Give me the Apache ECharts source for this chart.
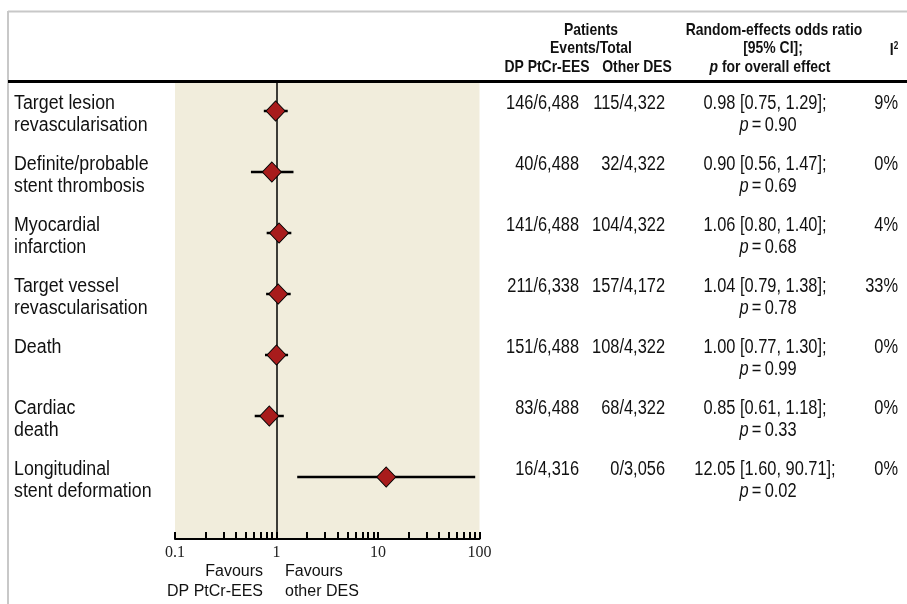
<!DOCTYPE html>
<html>
<head>
<meta charset="utf-8">
<script src="https://cdn.jsdelivr.net/npm/echarts@6/dist/echarts.min.js"></script>
<style>
html,body{margin:0;padding:0;background:#fff;}
#chart{width:907px;height:604px;}
</style>
</head>
<body>
<div id="chart"></div>
<script>
// ---- data ----
const outcomes = ['Target lesion\nrevascularisation', 'Definite/probable\nstent thrombosis', 'Myocardial\ninfarction', 'Target vessel\nrevascularisation', 'Death', 'Cardiac\ndeath', 'Longitudinal\nstent deformation'];
const orValues = [0.98, 0.90, 1.06, 1.04, 1.00, 0.85, 12.05];
const ciLow = [0.75, 0.56, 0.80, 0.79, 0.77, 0.61, 1.60];
const ciHigh = [1.29, 1.47, 1.40, 1.38, 1.30, 1.18, 90.71];
const eventsEES = ['146/6,488', '40/6,488', '141/6,488', '211/6,338', '151/6,488', '83/6,488', '16/4,316'];
const eventsOther = ['115/4,322', '32/4,322', '104/4,322', '157/4,172', '108/4,322', '68/4,322', '0/3,056'];
const pValues = ['0.90', '0.69', '0.68', '0.78', '0.99', '0.33', '0.02'];
const i2Values = ['9%', '0%', '4%', '33%', '0%', '0%', '0%'];
const tickValues = [0.1, 1, 10, 100];
const tickLabels = ['0.1', '1', '10', '100'];
const minorTickValues = [0.1,0.2,0.3,0.4,0.5,0.6,0.7,0.8,0.9,1,2,3,4,5,6,7,8,9,10,20,30,40,50,60,70,80,90,100];

// ---- styling ----
const SANS = "'Liberation Sans',Arial,sans-serif";
const SERIF = "'Liberation Serif','Times New Roman',serif";
const NARROW_SCALE = 0.82;
const INK = '#111';
const fmtOR = (i) => orValues[i].toFixed(2) + ' [' + ciLow[i].toFixed(2) + ', ' + ciHigh[i].toFixed(2) + '];';

const chart = echarts.init(document.getElementById('chart'), null, {renderer: 'canvas'});

function narrowText(x, y, text, align, opts) {
  opts = opts || {};
  const size = opts.size || 20;
  const weight = opts.bold ? 'bold ' : '';
  const style = {
    text: text, align: align, verticalAlign: 'middle',
    font: weight + size + 'px ' + SANS, fill: INK
  };
  if (opts.rich) style.rich = opts.rich;
  return {type: 'text', x: x, y: y, scaleX: opts.scale || NARROW_SCALE, style: style};
}

const option = {
  animation: false,
  backgroundColor: '#fff',
  grid: {left: 175, right: 427.5, top: 82, bottom: 65, show: true, backgroundColor: '#f1eddc', borderWidth: 0},
  xAxis: {
    type: 'log', logBase: 10, min: 0.1, max: 100,
    splitLine: {show: false},
    axisLine: {show: true, onZero: false, lineStyle: {color: '#000', width: 2}},
    axisTick: {show: true, inside: true, length: 7, customValues: minorTickValues, lineStyle: {color: '#000', width: 2}},
    axisLabel: {
      show: true, customValues: tickValues, margin: 6,
      fontFamily: SERIF, fontSize: 16, color: '#222',
      formatter: function (v) {
        for (let k = 0; k < tickValues.length; k++) {
          if (Math.abs(v - tickValues[k]) < tickValues[k] * 1e-6) return tickLabels[k];
        }
        return '';
      }
    }
  },
  yAxis: {type: 'value', inverse: true, min: -0.4754, max: 7.0164, show: false},
  series: [
    {
      type: 'custom',
      name: 'ci',
      clip: false,
      data: outcomes.map((_, i) => [ciLow[i], ciHigh[i], i]),
      encode: {x: [0, 1], y: 2},
      renderItem: function (params, api) {
        const a = api.coord([api.value(0), api.value(2)]);
        const b = api.coord([api.value(1), api.value(2)]);
        return {type: 'line', shape: {x1: a[0], y1: a[1], x2: b[0], y2: b[1]}, style: {stroke: '#000', lineWidth: 2.5}};
      },
      z: 3
    },
    {
      type: 'scatter',
      data: outcomes.map((_, i) => [orValues[i], i]),
      symbol: 'diamond',
      symbolSize: [19, 20],
      itemStyle: {color: '#a81c1c', borderColor: '#000', borderWidth: 1, opacity: 1},
      z: 5,
      markLine: {
        silent: true, symbol: 'none', label: {show: false},
        lineStyle: {color: '#000', width: 1.5, type: 'solid'},
        data: [{xAxis: 1}],
        z: 2
      }
    },
    {
      type: 'custom',
      name: 'table',
      clip: false,
      silent: true,
      data: outcomes.map((_, i) => [1, i]),
      renderItem: function (params, api) {
        const i = params.dataIndex;
        const y = api.coord([1, api.value(1)])[1];
        const y1 = y - 8, y2 = y + 14;
        const children = [];
        outcomes[i].split('\n').forEach((line, k) => {
          children.push(narrowText(14, y1 + 22 * k, line, 'left', {scale: 0.89}));
        });
        children.push(narrowText(579, y1, eventsEES[i], 'right'));
        children.push(narrowText(665, y1, eventsOther[i], 'right'));
        children.push(narrowText(765, y1, fmtOR(i), 'center'));
        children.push(narrowText(768, y2, '{i|p}\u2009=\u2009' + pValues[i], 'center', {
          rich: {i: {fontStyle: 'italic', fontFamily: SANS, fontSize: 20, fill: INK}}
        }));
        children.push(narrowText(898, y1, i2Values[i], 'right'));
        return {type: 'group', children: children};
      },
      z: 10
    }
  ],
  graphic: [
    {type: 'line', shape: {x1: 8, y1: 11.5, x2: 907, y2: 11.5}, style: {stroke: '#c8c8c8', lineWidth: 2}},
    {type: 'line', shape: {x1: 8, y1: 11, x2: 8, y2: 604}, style: {stroke: '#c8c8c8', lineWidth: 2}},
    {type: 'line', shape: {x1: 8, y1: 81.5, x2: 907, y2: 81.5}, style: {stroke: '#000', lineWidth: 3}},
    narrowText(591, 30, 'Patients', 'center', {bold: true, size: 17}),
    narrowText(591, 48, 'Events/Total', 'center', {bold: true, size: 17}),
    narrowText(547, 67, 'DP PtCr-EES', 'center', {bold: true, size: 17}),
    narrowText(637, 67, 'Other DES', 'center', {bold: true, size: 17}),
    narrowText(774, 30, 'Random-effects odds ratio', 'center', {bold: true, size: 17}),
    narrowText(773, 48, '[95% CI];', 'center', {bold: true, size: 17}),
    narrowText(770, 67, '{i|p} for overall effect', 'center', {bold: true, size: 17,
      rich: {i: {fontStyle: 'italic', fontWeight: 'bold', fontFamily: SANS, fontSize: 17, fill: INK}}}),
    narrowText(894, 50, '{b|I}{s|2}', 'center', {bold: true, size: 17,
      rich: {b: {fontWeight: 'bold', fontFamily: SANS, fontSize: 17, fill: INK},
             s: {fontWeight: 'bold', fontFamily: SANS, fontSize: 10, fill: INK, verticalAlign: 'top', padding: [0, 0, 8, 0]}}}),
    {type: 'text', x: 263, y: 572, style: {text: 'Favours', align: 'right', verticalAlign: 'middle', font: '16px ' + SANS, fill: INK}},
    {type: 'text', x: 263, y: 592, style: {text: 'DP PtCr-EES', align: 'right', verticalAlign: 'middle', font: '16px ' + SANS, fill: INK}},
    {type: 'text', x: 285, y: 572, style: {text: 'Favours', align: 'left', verticalAlign: 'middle', font: '16px ' + SANS, fill: INK}},
    {type: 'text', x: 285, y: 592, style: {text: 'other DES', align: 'left', verticalAlign: 'middle', font: '16px ' + SANS, fill: INK}}
  ]
};
chart.setOption(option);
</script>
</body>
</html>
